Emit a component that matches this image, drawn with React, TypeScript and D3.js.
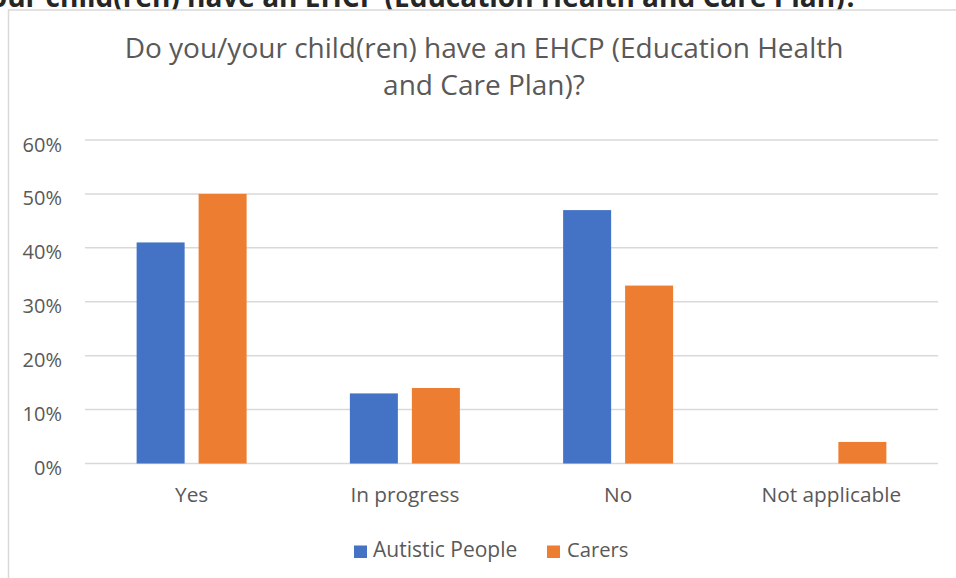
import React from "react";
import * as d3 from "d3";

const categories = ["Yes", "In progress", "No", "Not applicable"];
const seriesNames = ["Autistic People", "Carers"];
const autisticPeople = [0.41, 0.13, 0.47, 0];
const carers = [0.5, 0.14, 0.33, 0.04];
const yTicks = [0, 0.1, 0.2, 0.3, 0.4, 0.5, 0.6];
const colors = ["#4472C4", "#ED7D31"];
const titleLines = ["Do you/your child(ren) have an EHCP (Education Health", "and Care Plan)?"];
const pageHeading = "Do you/your child(ren) have an EHCP (Education Health and Care Plan)?";

export default function App() {
  const W = 956, H = 578;
  const left = 85, right = 938, top = 140, bottom = 463.5;
  const x0 = d3.scaleBand<string>().domain(categories).range([left, right]).paddingInner(0).paddingOuter(0);
  const bw = x0.bandwidth();
  const groupW = 110;
  const x1 = d3.scaleBand<string>().domain(seriesNames).range([(bw - groupW) / 2, (bw + groupW) / 2]).paddingInner(0.2258).paddingOuter(0);
  const y = d3.scaleLinear().domain([0, 0.6]).range([bottom, top]);
  const fmt = d3.format(".0%");
  const font = "'Open Sans', sans-serif";
  const seriesData = [autisticPeople, carers];

  return (
    <svg width={W} height={H} style={{ position: "absolute", left: 0, top: 0, background: "#fff" }} fontFamily={font}>
      <text x={858} y={7} textAnchor="end" fontSize={28} fontWeight="bold" fill="#262626">{pageHeading}</text>
      <rect x={8.5} y={10} width={1200} height={1200} fill="#fff" stroke="#d9d9d9" strokeWidth={1.5} />
      {titleLines.map((t, i) => (
        <text key={i} x={484} y={58 + i * 37} textAnchor="middle" fontSize={28} fill="#595959">{t}</text>
      ))}
      {yTicks.map((t) => (
        <g key={t}>
          <line x1={left} x2={right} y1={y(t)} y2={y(t)} stroke="#d9d9d9" strokeWidth={1.5} />
          <text x={62} y={y(t) + 11.5} textAnchor="end" fontSize={20} fill="#595959">{fmt(t)}</text>
        </g>
      ))}
      {categories.map((c, ci) => (
        <g key={c} transform={`translate(${x0(c)},0)`}>
          {seriesNames.map((s, si) => {
            const v = seriesData[si][ci];
            if (!v) return null;
            return (
              <rect key={s} x={x1(s)} width={x1.bandwidth()} y={y(v)} height={y(0) - y(v)} fill={colors[si]} />
            );
          })}
          <text x={bw / 2} y={501.5} textAnchor="middle" fontSize={20.8} fill="#595959">{c}</text>
        </g>
      ))}
      {[{ x: 354, tx: 373 }, { x: 547, tx: 567 }].map((p, i) => (
        <g key={i}>
          <rect x={p.x} y={545.5} width={13} height={12.5} fill={colors[i]} />
          <text x={p.tx} y={557} fontSize={i === 0 ? 21 : 20.2} fill="#595959">{seriesNames[i]}</text>
        </g>
      ))}
    </svg>
  );
}
